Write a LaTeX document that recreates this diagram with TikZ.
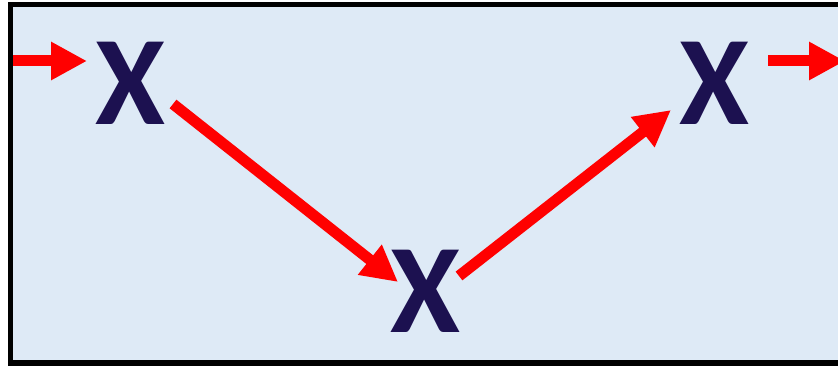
\documentclass[tikz,border=0pt]{standalone}
\usepackage{fontspec}
\setmainfont{Carlito}
\usetikzlibrary{arrows.meta,calc}
\definecolor{bgblue}{RGB}{222,234,246}
\definecolor{xnavy}{RGB}{28,17,80}
\definecolor{arrred}{RGB}{255,0,0}
\tikzset{
  xletter/.style={inner sep=0pt, anchor=base, text=xnavy,
    font=\fontsize{127}{127}\selectfont\bfseries},
  redarrow/.style={draw=arrred, line width=11pt,
    -{Triangle[length=36pt,width=36pt]}, arrred},
  frame/.style={draw=black, line width=5.5pt, fill=bgblue}
}
\begin{document}
\begin{tikzpicture}[x=1pt,y=-1pt]
\useasboundingbox (0,0) rectangle (838,366);
\path[frame] (10.5,4.5) rectangle (860,363);
\node[xletter] (x1) at (130.5,125) {X};
\node[xletter] (x2) at (425.5,332) {X};
\node[xletter] (x3) at (714.5,125) {X};
\coordinate (in) at (13,61);
\coordinate (out) at (845,61);
\draw[redarrow] (in) -- ($(x1.base)+(-43.5,-64)$);
\draw[redarrow] ($(x1.base)+(42.5,-21)$) -- ($(x2.base)+(-27.5,-50)$);
\draw[redarrow] ($(x2.base)+(33.5,-56)$) -- ($(x3.base)+(-43.5,-15)$);
\draw[redarrow] ($(x3.base)+(53.5,-64)$) -- (out);
\end{tikzpicture}
\end{document}
